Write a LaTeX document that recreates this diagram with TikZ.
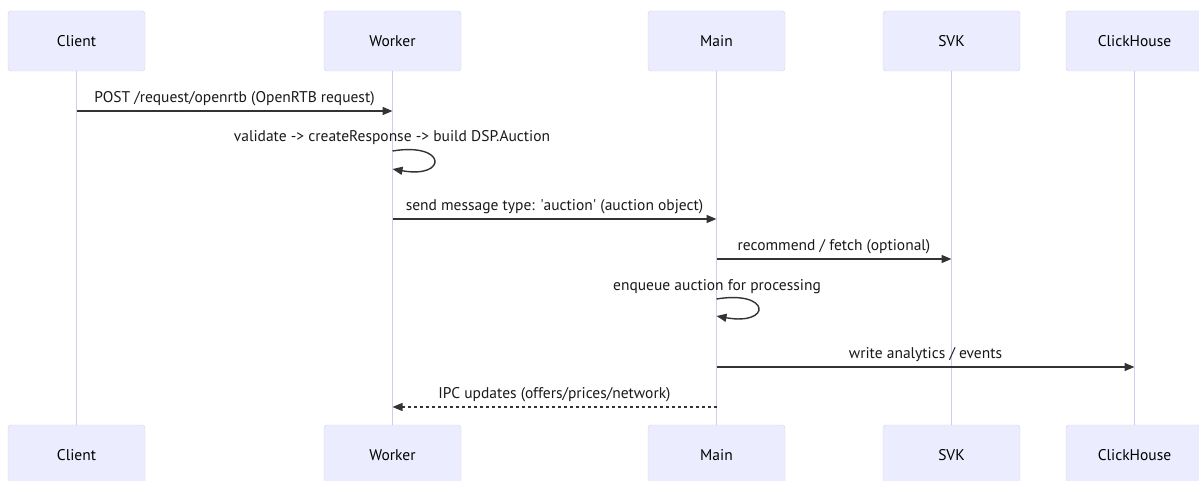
\documentclass[tikz,border=0pt]{standalone}
\usepackage{fontspec}
\setmainfont{PT Sans}
\usetikzlibrary{arrows.meta}
\definecolor{actorfill}{HTML}{ECECFF}
\definecolor{actorline}{HTML}{D6CDF3}
\definecolor{lifeline}{HTML}{D5C9F0}
\definecolor{msgline}{HTML}{333333}

\begin{document}
\begin{tikzpicture}[x=1pt, y=-1pt,
  actor/.style={draw=actorline, fill=actorfill, rounded corners=3pt, minimum width=137pt,
              minimum height=60pt, font=\fontsize{15.5}{18}\selectfont, text=black},
  life/.style={draw=lifeline, line width=1.5pt},
  msg/.style={draw=msgline, line width=1.4pt, -{Triangle[length=10pt, width=8pt]}},
  reply/.style={msg, dash pattern=on 3pt off 3pt},
  lbl/.style={font=\fontsize{15.5}{18}\selectfont, text=black!90, inner sep=0pt},
]
\useasboundingbox (0,0) rectangle (1199,481);
\clip (0,0) rectangle (1199,481);

% Actors (top)
\node[actor] (client) at (76.5, 41) {Client};
\node[actor] (worker) at (392.5, 41) {Worker};
\node[actor] (main) at (716.5, 41) {Main};
\node[actor] (svk) at (951.5, 41) {SVK};
\node[actor] (ch) at (1134.5, 41) {ClickHouse};

% Actors (bottom)
\node[actor] (clientB) at (76.5, 455) {Client};
\node[actor] (workerB) at (392.5, 455) {Worker};
\node[actor] (mainB) at (716.5, 455) {Main};
\node[actor] (svkB) at (951.5, 455) {SVK};
\node[actor] (chB) at (1134.5, 455) {ClickHouse};

% Lifelines
\draw[life] (client.south) -- (clientB.north);
\draw[life] (worker.south) -- (workerB.north);
\draw[life] (main.south) -- (mainB.north);
\draw[life] (svk.south) -- (svkB.north);
\draw[life] (ch.south) -- (chB.north);

% Rows
\coordinate (r1) at (0, 111);
\coordinate (r2) at (0, 151);
\coordinate (r2e) at (0, 169);
\coordinate (r3) at (0, 219);
\coordinate (r4) at (0, 259);
\coordinate (r5) at (0, 299);
\coordinate (r5e) at (0, 316);
\coordinate (r6) at (0, 367);
\coordinate (r7) at (0, 407);

% Messages
\draw[msg] (client |- r1) -- node[lbl, yshift=12.5pt] {POST /request/openrtb (OpenRTB request)} (worker |- r1);

\node[lbl] (selfw) at (392, 138) {validate -> createResponse -> build DSP.Auction};
\draw[msg] (worker |- r2) .. controls +(55,-9) and +(55,10) .. (worker |- r2e);

\draw[msg] (worker |- r3) -- node[lbl, yshift=12.5pt] {send message type: \textquotesingle auction\textquotesingle\ (auction object)} (main |- r3);
\draw[msg] (main |- r4) -- node[lbl, yshift=12.5pt] {recommend / fetch (optional)} (svk |- r4);

\node[lbl] (selfm) at (717, 287) {enqueue auction for processing};
\draw[msg] (main |- r5) .. controls +(55,-9) and +(55,10) .. (main |- r5e);

\draw[msg] (main |- r6) -- node[lbl, yshift=12.5pt] {write analytics / events} (ch |- r6);
\draw[reply] (main |- r7) -- node[lbl, yshift=12.5pt] {IPC updates (offers/prices/network)} (worker |- r7);

\end{tikzpicture}
\end{document}
